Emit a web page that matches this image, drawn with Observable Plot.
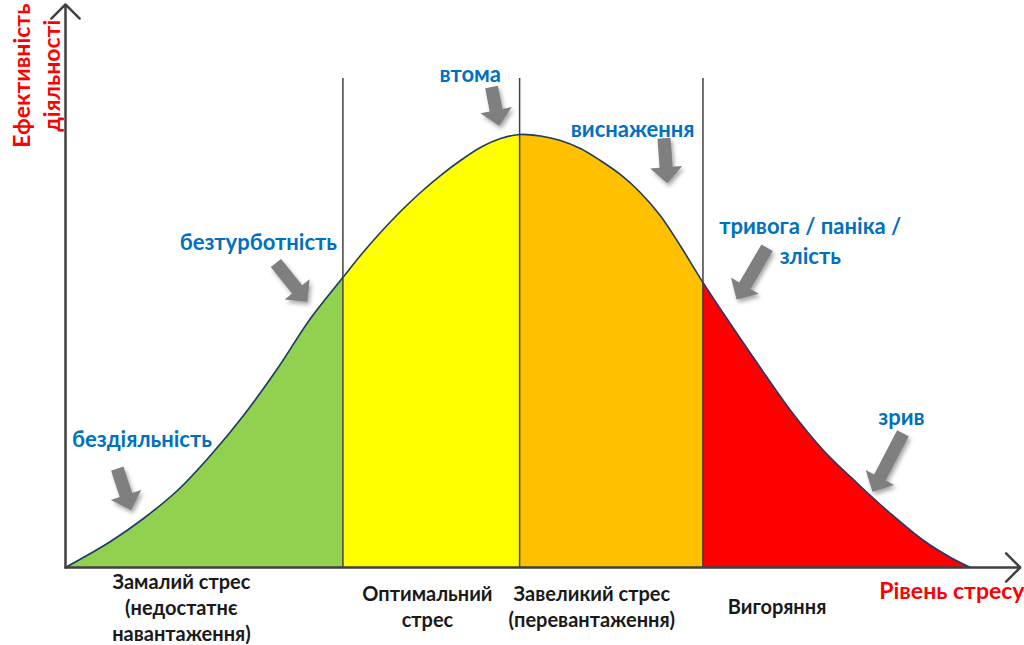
<!DOCTYPE html>
<html><head><meta charset="utf-8">
<script src="https://cdn.jsdelivr.net/npm/d3@7"></script>
<script src="https://cdn.jsdelivr.net/npm/@observablehq/plot@0.6"></script>
<style>body{margin:0;background:#fff}</style>
</head><body><div id="chart"></div>
<script>
// Curve (stress level vs. performance, arbitrary units 0–100)
const curveX = [0, 4.74, 8.21, 11.79, 15.26, 18.74, 22.32, 25.79, 29.2, 31.05, 33.16, 35.26, 37.37, 39.47, 41.58, 43.68, 45.79, 47.8, 50.0, 52.1, 54.2, 56.3, 58.4, 60.5, 62.6, 64.7, 67.1, 69.26, 72.84, 76.32, 79.79, 83.37, 86.84, 90.32, 93.16, 95.26];
const curveY = [0, 4.63, 8.72, 13.7, 19.93, 27.05, 35.41, 44.31, 51.6, 55.52, 59.61, 63.35, 66.73, 69.75, 72.42, 74.73, 76.33, 77.05, 76.78, 75.98, 74.56, 72.42, 69.93, 66.73, 62.63, 57.3, 50.71, 45.2, 36.3, 27.94, 20.82, 14.95, 9.61, 4.8, 1.78, 0];

const zoneNames = ["Замалий", "Оптимальний", "Завеликий", "Вигоряння"];
const zoneStart = [0, 29.2, 47.8, 67.1];
const zoneEnd = [29.2, 47.8, 67.1, 95.26];
const boundaryX = [29.2, 47.8, 67.1];
const boundaryTop = [87, 87, 87];

const zoneLabels = ["Замалий стрес\n(недостатнє\nнавантаження)", "Оптимальний\nстрес", "Завеликий стрес\n(перевантаження)", "Вигоряння"];
const zoneLabelX = [12.2, 38.1, 55.4, 74.9];
const zoneLabelY = [-6.9, -6.8, -6.8, -6.8];

const stateLabels = ["бездіяльність", "безтурботність", "втома", "виснаження", "тривога / паніка /\nзлість", "зрив"];
const stateX = [8.05, 20.3, 42.6, 59.7, 78.4, 88.0];
const stateY = [23.1, 58.2, 88.1, 78.3, 58.4, 27.0];

const arrowTailX = [5.5, 22.2, 44.9, 63.05, 73.9, 88.2];
const arrowTailY = [17.5, 54.1, 85.4, 76.3, 56.8, 23.8];
const arrowTipX = [6.95, 25.5, 45.7, 63.4, 70.7, 85.0];
const arrowTipY = [10.1, 47.2, 78.5, 68.3, 47.6, 13.4];

const yTitle = ["Ефективність", "діяльності"];
const yTitleX = [-4.5, -1.35];
const yTitleY = [87.5, 87.5];
const xTitle = ["Рівень стресу"];
const xTitleX = [93.3];
const xTitleY = [-4.3];

// styles
const zoneColors = ["#92D050", "#FFFF00", "#FFC000", "#FF0000"];
const FONT = "Lato, 'Open Sans', 'Noto Sans', sans-serif";

const curve = curveX.map((x, i) => ({x, y: curveY[i]}));
const zoneRows = [];
zoneNames.forEach((z, k) => {
  curve.forEach(p => { if (p.x >= zoneStart[k] && p.x <= zoneEnd[k]) zoneRows.push({x: p.x, y: p.y, zone: z}); });
});

function blockArrows(index, scales) {
  const ns = "http://www.w3.org/2000/svg";
  const sx = scales.x, sy = scales.y;
  const g = document.createElementNS(ns, "g");
  g.setAttribute("style", "filter: drop-shadow(2px 3px 2px rgba(0,0,0,0.35))");
  const sw = 6.5, hw = 16, hl = 16;
  for (let i = 0; i < arrowTailX.length; i++) {
    const x0 = sx(arrowTailX[i]), y0 = sy(arrowTailY[i]);
    const x1 = sx(arrowTipX[i]), y1 = sy(arrowTipY[i]);
    const L = Math.hypot(x1 - x0, y1 - y0);
    const dx = (x1 - x0) / L, dy = (y1 - y0) / L;
    const nx = -dy, ny = dx;
    const bx = x1 - dx * hl, by = y1 - dy * hl;
    const pts = [
      [x0 + nx * sw, y0 + ny * sw],
      [bx + nx * sw, by + ny * sw],
      [bx + nx * hw, by + ny * hw],
      [x1, y1],
      [bx - nx * hw, by - ny * hw],
      [bx - nx * sw, by - ny * sw],
      [x0 - nx * sw, y0 - ny * sw]
    ];
    const p = document.createElementNS(ns, "path");
    p.setAttribute("d", "M" + pts.map(q => q[0].toFixed(1) + "," + q[1].toFixed(1)).join("L") + "Z");
    p.setAttribute("fill", "#7f7f7f");
    g.appendChild(p);
  }
  return g;
}

const chart = Plot.plot({
  width: 1024,
  height: 645,
  margin: 0,
  x: {domain: [0, 100], range: [65, 1015], axis: null},
  y: {domain: [0, 100], range: [567, 5], axis: null},
  color: {domain: zoneNames, range: zoneColors},
  style: {fontFamily: FONT, background: "#fff", overflow: "visible"},
  marks: [
    Plot.areaY(zoneRows, {x: "x", y1: 0, y2: "y", fill: "zone", z: "zone", curve: "catmull-rom"}),
    Plot.line(curve, {x: "x", y: "y", stroke: "#1F3A6B", strokeWidth: 1.6, curve: "catmull-rom"}),
    Plot.ruleX(boundaryX, {x: d => d, y1: 0, y2: (d, i) => boundaryTop[i], stroke: "#404040", strokeWidth: 1.5}),
    Plot.arrow([0], {x1: 0, y1: 0, x2: 0, y2: 100.2, stroke: "#404040", strokeWidth: 2.5, headLength: 12, headAngle: 90}),
    Plot.arrow([0], {x1: 0, y1: 0, x2: 100.5, y2: 0, stroke: "#404040", strokeWidth: 2.5, headLength: 12, headAngle: 90}),
    blockArrows,
    Plot.text(stateLabels, {x: (d, i) => stateX[i], y: (d, i) => stateY[i], text: d => d, fill: "#0070C0", fontSize: 22, fontWeight: "bold", lineHeight: 1.36}),
    Plot.text(zoneLabels, {x: (d, i) => zoneLabelX[i], y: (d, i) => zoneLabelY[i], text: d => d, fill: "#1a1a1a", fontSize: 20, fontWeight: "bold", lineHeight: 1.3}),
    Plot.text(yTitle, {x: (d, i) => yTitleX[i], y: (d, i) => yTitleY[i], text: d => d, rotate: -90, fill: "#FF0000", fontSize: 23, fontWeight: "bold"}),
    Plot.text(xTitle, {x: (d, i) => xTitleX[i], y: (d, i) => xTitleY[i], text: d => d, fill: "#FF0000", fontSize: 23, fontWeight: "bold"})
  ]
});
document.getElementById("chart").appendChild(chart);
</script>
</body></html>
